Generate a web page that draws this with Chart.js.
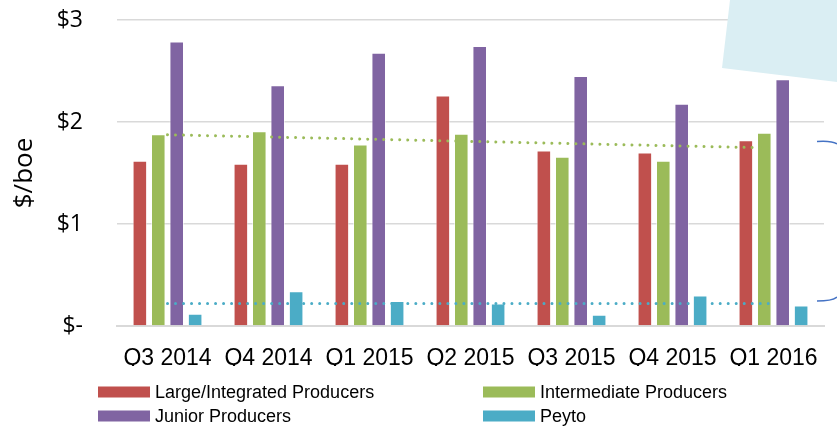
<!DOCTYPE html>
<html>
<head>
<meta charset="utf-8">
<script src="https://cdn.jsdelivr.net/npm/chart.js@4.4.1/dist/chart.umd.min.js"></script>
<style>
    html, body { margin: 0; padding: 0; background: #fff; }
    #chart { display: block; }
</style>
</head>
<body>
<canvas id="chart" width="837" height="426"></canvas>
<script>
// ================= DATA =================
const categories = ['Q3 2014', 'Q4 2014', 'Q1 2015', 'Q2 2015', 'Q3 2015', 'Q4 2015', 'Q1 2016'];

const largeIntegrated = [1.62, 1.59, 1.59, 2.26, 1.72, 1.70, 1.82];
const intermediate    = [1.88, 1.91, 1.78, 1.885, 1.66, 1.62, 1.895];
const junior          = [2.79, 2.36, 2.68, 2.745, 2.45, 2.18, 2.42];
const peyto           = [0.12, 0.34, 0.245, 0.22, 0.11, 0.30, 0.20];

// trend lines (only ends, straight line between)
const intermediateTrend = [1.875, null, null, null, null, null, 1.745];
const peytoTrend        = [0.22, null, null, null, null, null, 0.22];

const yTicks = [0, 1, 2, 3];

const seriesNames = ['Large/Integrated Producers', 'Intermediate Producers', 'Junior Producers', 'Peyto'];
const seriesColors = ['#C0504D', '#9BBB59', '#8064A2', '#4BACC6'];

const sansFont = '"Liberation Sans", Arial, sans-serif';
const humanist = '"Open Sans", "DejaVu Sans", sans-serif';

// ================= PLUGINS =================
// legend 2 x 2 like the reference
const gridLegend = {
    id: 'gridLegend',
    afterDraw(chart) {
        const { ctx } = chart;
        const cols = [98, 483];
        const rows = [392, 416];
        ctx.save();
        ctx.font = '18px ' + sansFont;
        ctx.textBaseline = 'middle';
        ctx.textAlign = 'left';
        chart.data.datasets.filter(d => d.type === 'bar').forEach((ds, i) => {
            const x = cols[i % 2];
            const y = rows[Math.floor(i / 2)];
            ctx.fillStyle = ds.backgroundColor;
            ctx.fillRect(x, y - 5.5, 52, 11);
            ctx.fillStyle = '#000';
            ctx.fillText(ds.label, x + 57, y + 1);
        });
        ctx.restore();
    }
};

// callout shape + bracket pieces cut off on the right edge
const decorations = {
    id: 'decorations',
    afterDraw(chart) {
        const { ctx } = chart;
        ctx.save();
        ctx.fillStyle = '#DAEEF3';
        ctx.beginPath();
        ctx.moveTo(730, 0);
        ctx.lineTo(837, 0);
        ctx.lineTo(837, 82);
        ctx.lineTo(722, 68);
        ctx.closePath();
        ctx.fill();

        ctx.strokeStyle = '#4472C4';
        ctx.lineWidth = 1.5;
        ctx.beginPath();
        ctx.moveTo(817, 141.5);
        ctx.quadraticCurveTo(832, 140.5, 837, 144);
        ctx.stroke();
        ctx.beginPath();
        ctx.moveTo(817, 301);
        ctx.quadraticCurveTo(832, 301, 837, 297);
        ctx.stroke();
        ctx.restore();
    }
};

// ================= CHART =================
const barDefaults = {
    type: 'bar',
    borderWidth: 1,
    borderColor: 'rgba(255,255,255,0.55)',
    categoryPercentage: 0.73,
    barPercentage: 0.79,
    order: 2
};

const dotLine = (data, color) => ({
    type: 'line',
    data: data,
    borderColor: color,
    borderWidth: 3,
    borderDash: [0.01, 8],
    borderCapStyle: 'round',
    pointRadius: 0,
    spanGaps: true,
    fill: false,
    tension: 0,
    order: 0
});

new Chart(document.getElementById('chart'), {
    data: {
        labels: categories,
        datasets: [
            { ...barDefaults, label: seriesNames[0], data: largeIntegrated, backgroundColor: seriesColors[0] },
            { ...barDefaults, label: seriesNames[1], data: intermediate, backgroundColor: seriesColors[1] },
            { ...barDefaults, label: seriesNames[2], data: junior, backgroundColor: seriesColors[2] },
            { ...barDefaults, label: seriesNames[3], data: peyto, backgroundColor: seriesColors[3] },
            dotLine(intermediateTrend, '#9BBB59'),
            dotLine(peytoTrend, '#4BACC6')
        ]
    },
    options: {
        responsive: false,
        animation: false,
        layout: { padding: { top: 20, right: 13, bottom: 60, left: 0 } },
        plugins: {
            legend: { display: false },
            tooltip: { enabled: false }
        },
        scales: {
            x: {
                grid: { display: false, drawTicks: false },
                border: { display: true, color: '#D9D9D9', width: 2 },
                ticks: {
                    color: '#000',
                    font: { family: sansFont, size: 23 },
                    padding: 19,
                    maxRotation: 0,
                    autoSkip: false
                },
                afterFit(scale) {
                    scale.height = 40;
                    scale.paddingLeft = 0;
                    scale.paddingRight = 0;
                }
            },
            y: {
                min: 0,
                max: 3,
                afterBuildTicks(scale) { scale.ticks = yTicks.map(v => ({ value: v })); },
                grid: { color: '#D9D9D9', lineWidth: 1.5, drawTicks: false },
                border: { display: false },
                ticks: {
                    color: '#000',
                    font: { family: humanist, size: 23 },
                    padding: 34,
                    callback: v => v === 0 ? '$-' : '$' + v
                },
                title: {
                    display: true,
                    text: '$/boe',
                    color: '#000',
                    font: { family: humanist, size: 26 },
                    padding: { top: 9, bottom: 0 }
                },
                afterFit(scale) {
                    scale.width = 117;
                    // ticks.padding would otherwise push the plot top down
                    scale.paddingTop = 14;
                    scale.paddingBottom = 14;
                }
            }
        }
    },
    plugins: [gridLegend, decorations]
});
</script>
</body>
</html>
